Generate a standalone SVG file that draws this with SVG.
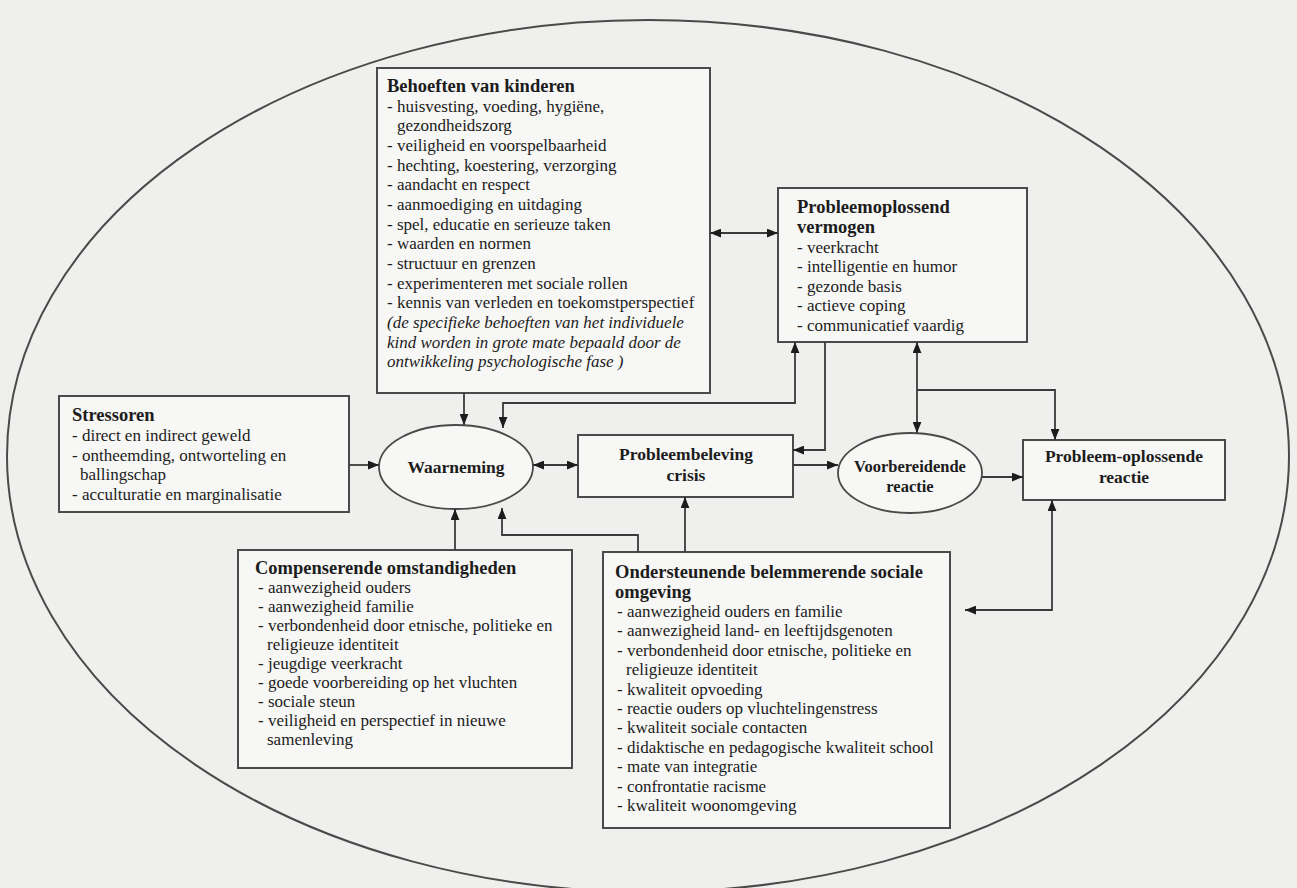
<svg xmlns="http://www.w3.org/2000/svg" width="1297" height="888" viewBox="0 0 1297 888">
<defs>
<style>
text{font-family:"Liberation Serif","Times New Roman",serif;fill:#1c1c1c}
.t{font-size:18.5px;font-weight:bold}
.b{font-size:17px}
.i{font-size:17px;font-style:italic}
.n{font-size:17.5px;font-weight:bold;text-anchor:middle}
.box{fill:#f7f7f5;stroke:#4a4a4a;stroke-width:2}
.ell{fill:#f7f7f5;stroke:#4a4a4a;stroke-width:1.8}
.c{fill:none;stroke:#3a3a3a;stroke-width:1.8}
</style>
<marker id="ah" viewBox="0 0 10 8" refX="10" refY="4" markerWidth="11" markerHeight="9" markerUnits="userSpaceOnUse" orient="auto-start-reverse">
<path d="M0,0 L10,4 L0,8 z" fill="#1c1c1c"/>
</marker>
</defs>
<rect width="1297" height="888" fill="#efefed"/>
<ellipse cx="648" cy="456" rx="641" ry="436" fill="none" stroke="#4a4a4a" stroke-width="2"/>

<g id="behoeften">
<rect class="box" x="377" y="68" width="333" height="325"/>
<text class="t" x="387" y="92">Behoeften van kinderen</text>
<text class="b" x="387" y="112">- huisvesting, voeding, hygiëne,</text>
<text class="b" x="397" y="131">gezondheidszorg</text>
<text class="b" x="387" y="151">- veiligheid en voorspelbaarheid</text>
<text class="b" x="387" y="171">- hechting, koestering, verzorging</text>
<text class="b" x="387" y="190">- aandacht en respect</text>
<text class="b" x="387" y="210">- aanmoediging en uitdaging</text>
<text class="b" x="387" y="230">- spel, educatie en serieuze taken</text>
<text class="b" x="387" y="249">- waarden en normen</text>
<text class="b" x="387" y="269">- structuur en grenzen</text>
<text class="b" x="387" y="289">- experimenteren met sociale rollen</text>
<text class="b" x="387" y="308">- kennis van verleden en toekomstperspectief</text>
<text class="i" x="387" y="328">(de specifieke behoeften van het individuele</text>
<text class="i" x="387" y="348">kind worden in grote mate bepaald door de</text>
<text class="i" x="387" y="367">ontwikkeling psychologische fase )</text>
</g>

<g id="probleemoplossend-vermogen">
<rect class="box" x="778" y="188" width="249" height="154"/>
<text class="t" x="797" y="213">Probleemoplossend</text>
<text class="t" x="797" y="233">vermogen</text>
<text class="b" x="797" y="253">- veerkracht</text>
<text class="b" x="797" y="272">- intelligentie en humor</text>
<text class="b" x="797" y="292">- gezonde basis</text>
<text class="b" x="797" y="311">- actieve coping</text>
<text class="b" x="797" y="331">- communicatief vaardig</text>
</g>

<g id="stressoren">
<rect class="box" x="59" y="396" width="290" height="116"/>
<text class="t" x="72" y="421">Stressoren</text>
<text class="b" x="72" y="441">- direct en indirect geweld</text>
<text class="b" x="72" y="461">- ontheemding, ontworteling en</text>
<text class="b" x="80" y="480">ballingschap</text>
<text class="b" x="72" y="500">- acculturatie en marginalisatie</text>
</g>

<g id="waarneming">
<ellipse class="ell" cx="456" cy="467" rx="77" ry="42"/>
<text class="n" x="456" y="473">Waarneming</text>
</g>

<g id="probleembeleving">
<rect class="box" x="578" y="435" width="215" height="62"/>
<text class="n" x="686" y="460">Probleembeleving</text>
<text class="n" x="686" y="481">crisis</text>
</g>

<g id="voorbereidende-reactie">
<ellipse class="ell" cx="910" cy="473" rx="72" ry="40"/>
<text class="n" x="910" y="472" style="font-size:16.5px">Voorbereidende</text>
<text class="n" x="910" y="492" style="font-size:16.5px">reactie</text>
</g>

<g id="probleem-oplossende-reactie">
<rect class="box" x="1023" y="440" width="202" height="60"/>
<text class="n" x="1124" y="462">Probleem-oplossende</text>
<text class="n" x="1124" y="483">reactie</text>
</g>

<g id="compenserende">
<rect class="box" x="238" y="550" width="334" height="218"/>
<text class="t" x="255" y="574">Compenserende omstandigheden</text>
<text class="b" x="258" y="593">- aanwezigheid ouders</text>
<text class="b" x="258" y="612">- aanwezigheid familie</text>
<text class="b" x="258" y="631">- verbondenheid door etnische, politieke en</text>
<text class="b" x="267" y="650">religieuze identiteit</text>
<text class="b" x="258" y="669">- jeugdige veerkracht</text>
<text class="b" x="258" y="688">- goede voorbereiding op het vluchten</text>
<text class="b" x="258" y="707">- sociale steun</text>
<text class="b" x="258" y="726">- veiligheid en perspectief in nieuwe</text>
<text class="b" x="267" y="745">samenleving</text>
</g>

<g id="ondersteunende">
<rect class="box" x="603" y="552" width="347" height="276"/>
<text class="t" x="615" y="578">Ondersteunende belemmerende sociale</text>
<text class="t" x="615" y="598">omgeving</text>
<text class="b" x="617" y="617">- aanwezigheid ouders en familie</text>
<text class="b" x="617" y="636">- aanwezigheid land- en leeftijdsgenoten</text>
<text class="b" x="617" y="656">- verbondenheid door etnische, politieke en</text>
<text class="b" x="626" y="675">religieuze identiteit</text>
<text class="b" x="617" y="695">- kwaliteit opvoeding</text>
<text class="b" x="617" y="714">- reactie ouders op vluchtelingenstress</text>
<text class="b" x="617" y="733">- kwaliteit sociale contacten</text>
<text class="b" x="617" y="753">- didaktische en pedagogische kwaliteit school</text>
<text class="b" x="617" y="772">- mate van integratie</text>
<text class="b" x="617" y="792">- confrontatie racisme</text>
<text class="b" x="617" y="811">- kwaliteit woonomgeving</text>
</g>

<g id="connectors">
<path class="c" d="M349,465 H379" marker-end="url(#ah)"/>
<path class="c" d="M464,393 V425" marker-end="url(#ah)"/>
<path class="c" d="M503,428 V403 H795 V342" marker-start="url(#ah)" marker-end="url(#ah)"/>
<path class="c" d="M710,233 H778" marker-start="url(#ah)" marker-end="url(#ah)"/>
<path class="c" d="M533,465 H578" marker-start="url(#ah)" marker-end="url(#ah)"/>
<path class="c" d="M825,342 V450 H793" marker-end="url(#ah)"/>
<path class="c" d="M793,465 H838" marker-end="url(#ah)"/>
<path class="c" d="M917,342 V433" marker-start="url(#ah)" marker-end="url(#ah)"/>
<path class="c" d="M917,390 H1055 V440" marker-end="url(#ah)"/>
<path class="c" d="M982,477 H1023" marker-end="url(#ah)"/>
<path class="c" d="M455,550 V509" marker-end="url(#ah)"/>
<path class="c" d="M638,552 V535 H502 V508" marker-end="url(#ah)"/>
<path class="c" d="M685,552 V497" marker-end="url(#ah)"/>
<path class="c" d="M1052,500 V610 H965" marker-start="url(#ah)" marker-end="url(#ah)"/>
</g>
</svg>
